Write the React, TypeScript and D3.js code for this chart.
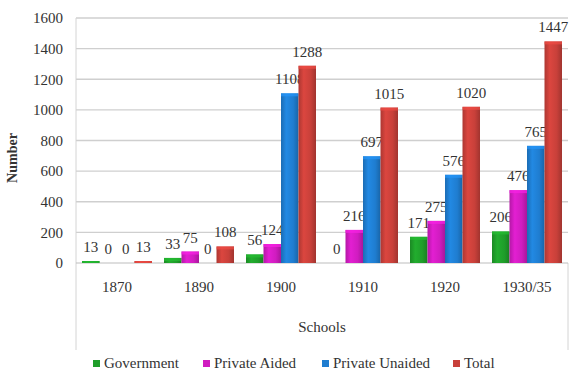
import React from "react";
import * as d3 from "d3";

const categories = ["1870", "1890", "1900", "1910", "1920", "1930/35"];
const seriesNames = ["Government", "Private Aided", "Private Unaided", "Total"];
const government = [13, 33, 56, 0, 171, 206];
const privateAided = [0, 75, 124, 216, 275, 476];
const privateUnaided = [0, 0, 1108, 697, 576, 765];
const total = [13, 108, 1288, 1015, 1020, 1447];
const yTicks = [0, 200, 400, 600, 800, 1000, 1200, 1400, 1600];
const colors = ["#1f9e2a", "#d01cc0", "#1f7dd0", "#c8403a"];

const W = 572;
const H = 371;

export default function App() {
  const seriesValues = [government, privateAided, privateUnaided, total];
  const x0 = d3.scaleBand<string>().domain(categories).range([76, 568]).paddingInner(0).paddingOuter(0);
  const inner = 70;
  const x1 = d3
    .scaleBand<string>()
    .domain(seriesNames)
    .range([(x0.bandwidth() - inner) / 2, (x0.bandwidth() + inner) / 2])
    .padding(0);
  const y = d3.scaleLinear().domain([0, 1600]).range([263, 18]);
  const ts = { fontFamily: '"Liberation Serif", "Tinos", serif' };

  const legendX = [93, 203, 322, 453];

  return (
    <div style={{ position: "absolute", left: 0, top: 0 }}>
      <svg width={W} height={H} style={{ display: "block", background: "#fff" }}>
        <defs>
          {colors.map((c, i) => {
            const base = d3.color(c)!;
            return (
              <linearGradient key={i} id={`g${i}`} x1="0" x2="1" y1="0" y2="0">
                <stop offset="0%" stopColor={base.darker(0.4).formatHex()} />
                <stop offset="30%" stopColor={base.brighter(0.25).formatHex()} />
                <stop offset="70%" stopColor={c} />
                <stop offset="100%" stopColor={base.darker(0.6).formatHex()} />
              </linearGradient>
            );
          })}
        </defs>
        {/* gridlines */}
        {yTicks.map((t) => (
          <g key={t}>
            {t > 0 && (
              <line x1={76} x2={568} y1={y(t)} y2={y(t)} stroke="#cfcfcf" strokeWidth={1.3} />
            )}
            <text x={63} y={y(t)} dy="0.35em" textAnchor="end" style={ts} fontSize={15} fill="#333">
              {t}
            </text>
          </g>
        ))}
        {/* axis & table lines */}
        <line x1={76} x2={76} y1={18} y2={350} stroke="#d4d4d4" strokeWidth={1} />
        <line x1={568} x2={568} y1={263} y2={350} stroke="#d4d4d4" strokeWidth={1} />
        <line x1={76} x2={568} y1={263} y2={263} stroke="#bdbdbd" strokeWidth={1} />
        {/* bars */}
        {categories.map((cat, ci) => (
          <g key={cat} transform={`translate(${x0(cat)},0)`}>
            {seriesNames.map((s, si) => {
              const v = seriesValues[si][ci];
              const bx = x1(s)!;
              const bw = x1.bandwidth();
              const top = y(v);
              const h = y(0) - top;
              return (
                <g key={s}>
                  {v > 0 && (
                    <>
                      <rect x={bx} y={top} width={bw} height={h} fill={`url(#g${si})`} />
                      <rect
                        x={bx}
                        y={top}
                        width={bw}
                        height={Math.min(3, h)}
                        fill={d3.color(colors[si])!.brighter(0.5).formatHex()}
                        opacity={0.7}
                      />
                    </>
                  )}
                  <text x={bx + bw / 2} y={top - 9} textAnchor="middle" style={ts} fontSize={15} fill="#333">
                    {v}
                  </text>
                </g>
              );
            })}
            <text x={x0.bandwidth() / 2} y={292} textAnchor="middle" style={ts} fontSize={15} fill="#333">
              {cat}
            </text>
          </g>
        ))}
        {/* axis titles */}
        <text
          transform={`translate(17,158) rotate(-90)`}
          textAnchor="middle"
          style={ts}
          fontSize={14}
          fontWeight="bold"
          fill="#333"
        >
          Number
        </text>
        <text x={322} y={332} textAnchor="middle" style={ts} fontSize={15} fill="#333">
          Schools
        </text>
        {/* legend */}
        {seriesNames.map((s, i) => (
          <g key={s}>
            <rect x={legendX[i]} y={360} width={7} height={7} fill={colors[i]} />
            <text x={legendX[i] + 11} y={368} style={ts} fontSize={15} fill="#333">
              {s}
            </text>
          </g>
        ))}
      </svg>
    </div>
  );
}
